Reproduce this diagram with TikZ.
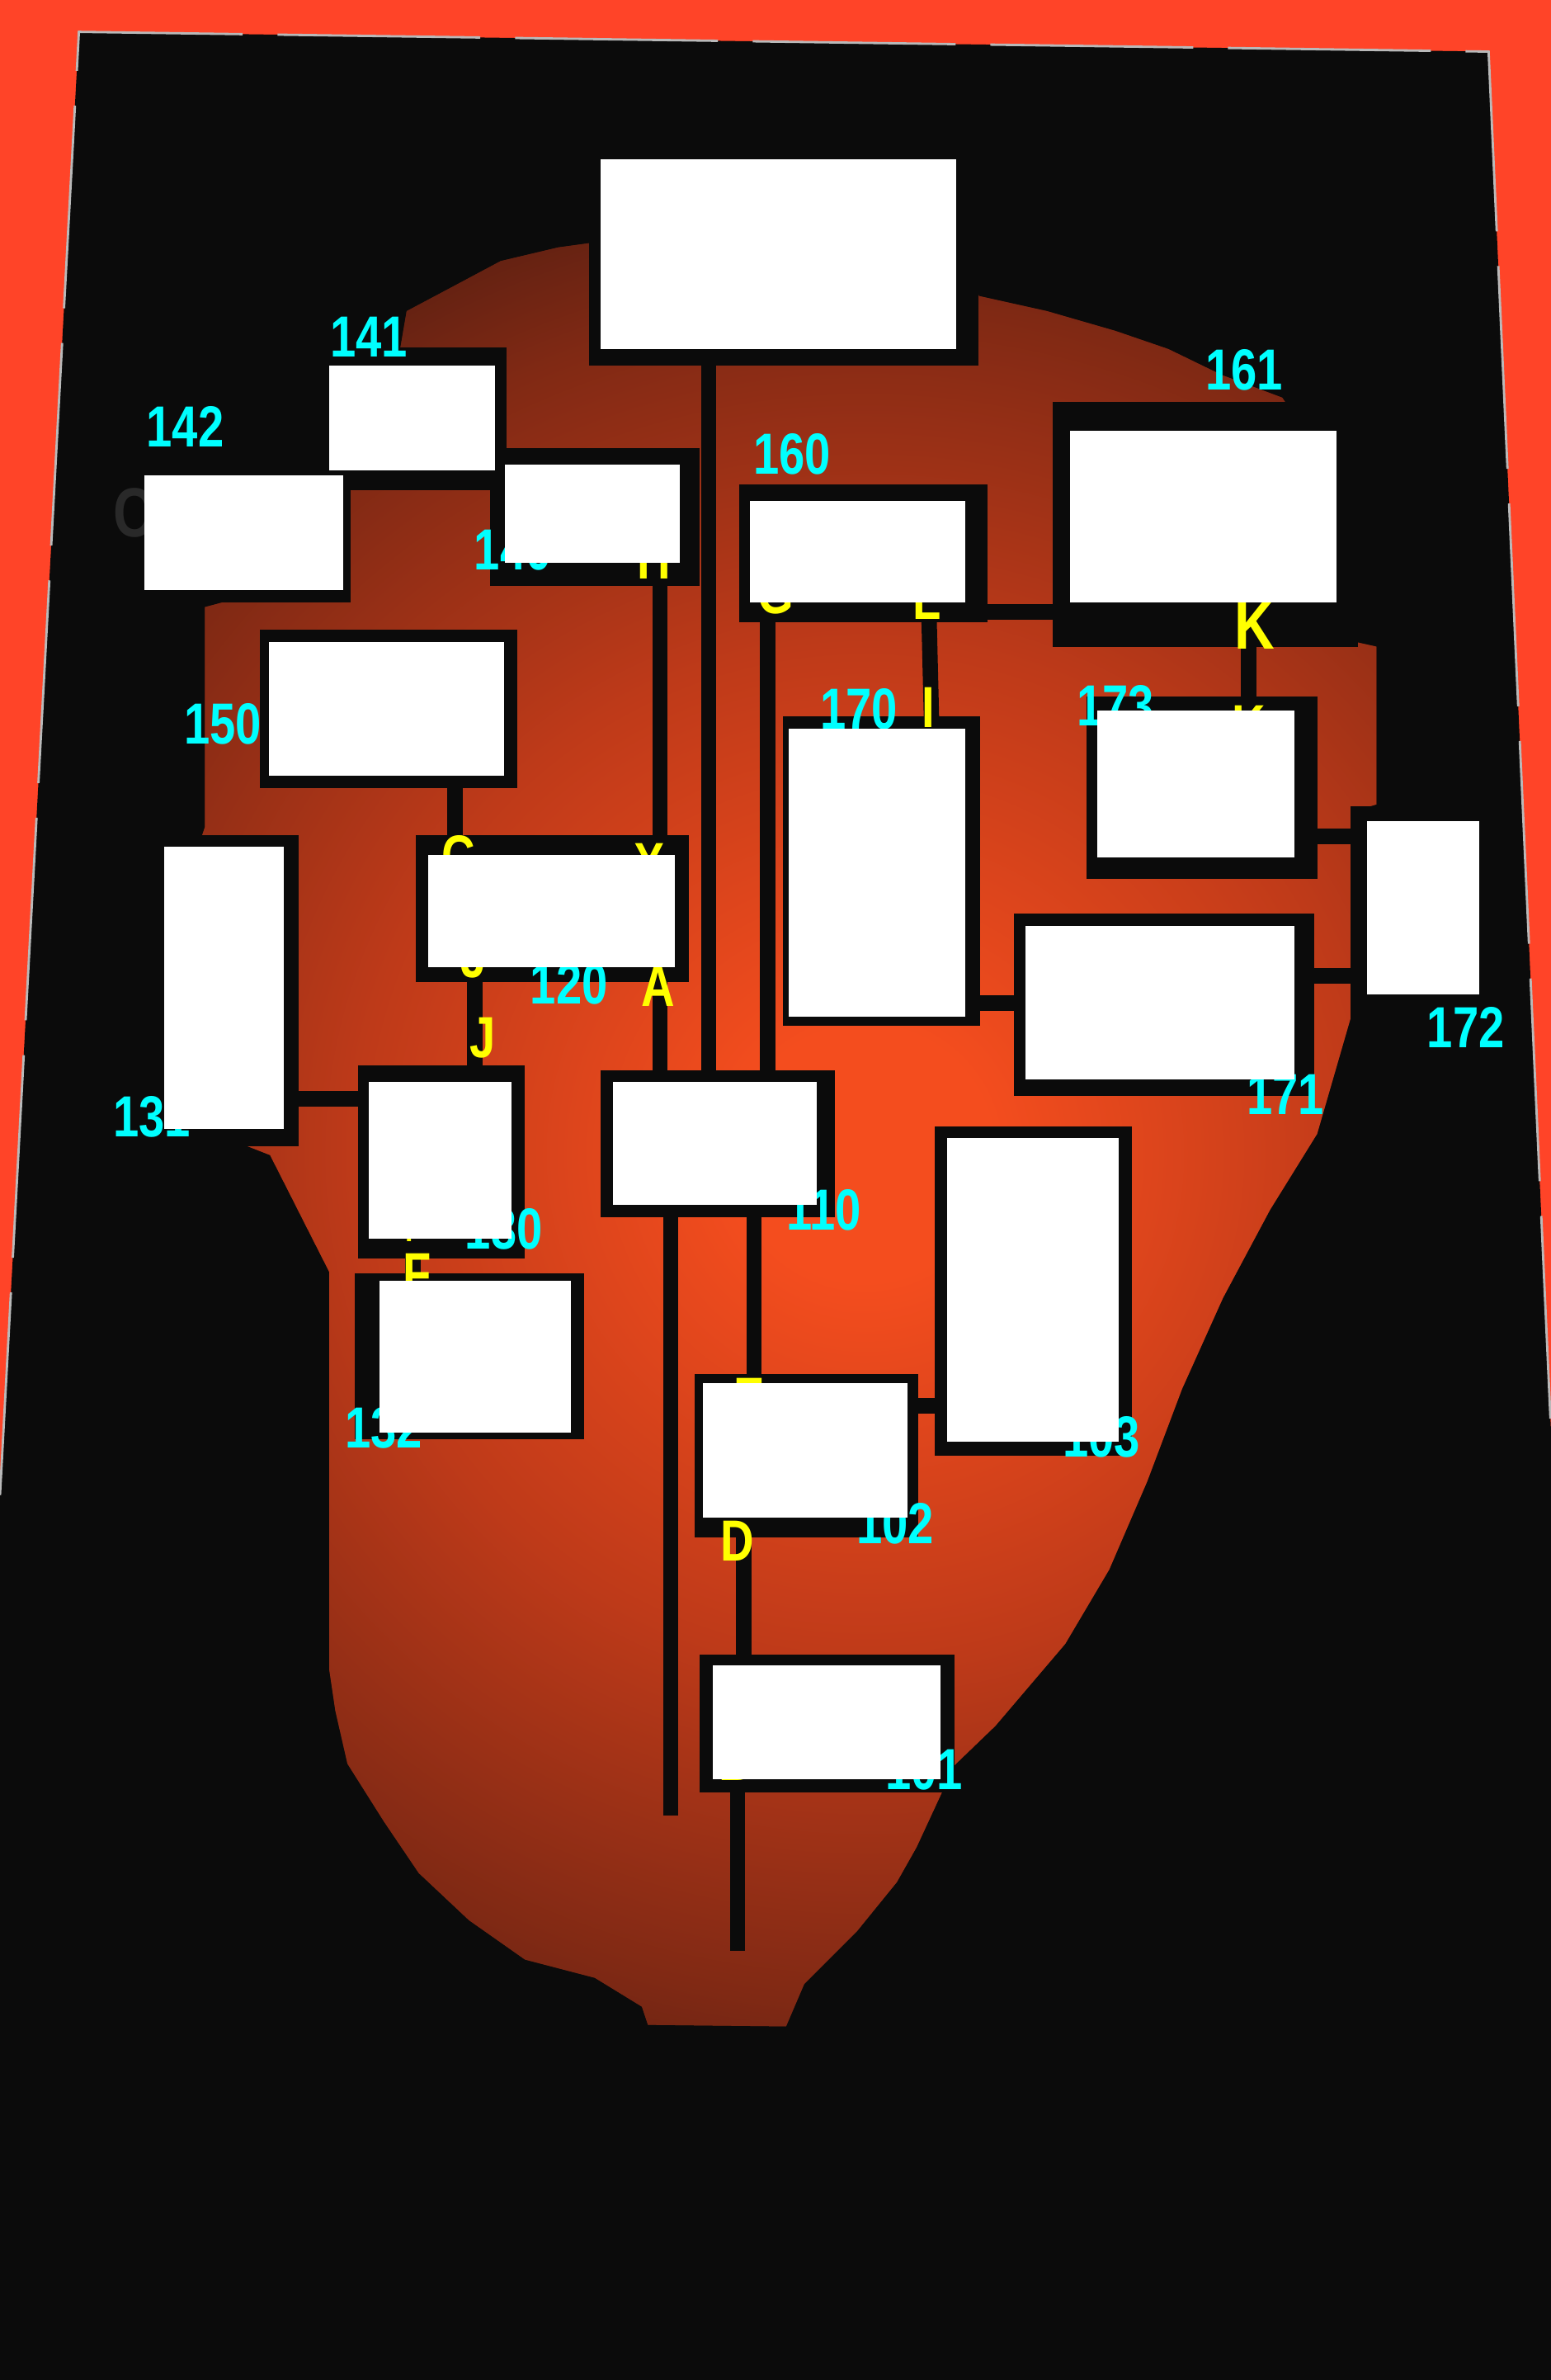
\documentclass[tikz,border=0pt]{standalone}
\usepackage{fontspec}
\usetikzlibrary{fit}
\newfontfamily\lblfont{Liberation Sans}[FakeStretch=0.8]
\definecolor{ink}{RGB}{11,11,11}
\definecolor{bgred}{RGB}{255,68,40}
\definecolor{blobhi}{RGB}{244,77,30}
\definecolor{blobmid}{RGB}{190,58,25}
\definecolor{blobdk}{RGB}{128,41,20}
\definecolor{bloblo}{RGB}{98,33,18}
\definecolor{numcyan}{RGB}{0,255,255}
\definecolor{letyel}{RGB}{255,255,0}
\pgfdeclareradialshading{blobglow}{\pgfpoint{0bp}{0bp}}{color(0bp)=(blobhi); color(3bp)=(blobhi); color(12bp)=(blobmid); color(20bp)=(blobdk); color(23bp)=(bloblo); color(50bp)=(bloblo)}
\pgfdeclarelayer{bg}
\pgfdeclarelayer{mid}
\pgfsetlayers{bg,mid,main}

\begin{document}
\begin{tikzpicture}[x=0.018395cm, y=-0.018395cm,
  wbox/.style={fill=white, draw=none, inner sep=0pt, outer sep=0pt},
  wire/.style={draw=ink, line width=5.3pt},
  numlabel/.style={text=numcyan, inner sep=0pt, font=\lblfont\bfseries\fontsize{20}{20}\selectfont},
  lettertag/.style={text=letyel, inner sep=0pt, font=\lblfont\bfseries\fontsize{20}{20}\selectfont}]
  \useasboundingbox (0,0) rectangle (1022,1568);
  % white boxes
  \node[wbox, fit={(396,105) (630,230)}] (top) {};
  \node[wbox, fit={(217,241) (326,310)}] (n141) {};
  \node[wbox, fit={(95,313) (226,389)}] (n142) {};
  \node[wbox, fit={(333,306) (448,371)}] (n140) {};
  \node[wbox, fit={(494,330) (636,397)}] (n160) {};
  \node[wbox, fit={(705,284) (881,397)}] (n161) {};
  \node[wbox, fit={(177,423) (332,511)}] (n150) {};
  \node[wbox, fit={(282,563) (445,637)}] (n120) {};
  \node[wbox, fit={(108,558) (187,744)}] (n131) {};
  \node[wbox, fit={(243,713) (337,816)}] (n130) {};
  \node[wbox, fit={(250,844) (376,944)}] (n132) {};
  \node[wbox, fit={(404,713) (538,794)}] (n110) {};
  \node[wbox, fit={(520,480) (636,670)}] (n170) {};
  \node[wbox, fit={(723,468) (853,565)}] (n173) {};
  \node[wbox, fit={(901,541) (975,655)}] (n172) {};
  \node[wbox, fit={(676,610) (853,711)}] (n171) {};
  \node[wbox, fit={(624,750) (737,950)}] (n103) {};
  \node[wbox, fit={(463,911) (598,1000)}] (n102) {};
  \node[wbox, fit={(470,1097) (620,1172)}] (n101) {};
  \coordinate (tail1) at (442,1196);
  \coordinate (tail2) at (486,1285);

  \begin{pgfonlayer}{bg}
    \fill[bgred] (0,0) rectangle (1022,1568);
    \fill[ink] (52,21) -- (981,34) -- (1022,940) -- (1022,1568) -- (0,1568) -- (0,985) -- cycle;
    \draw[gray!55, line width=0.8pt, dash pattern=on 70pt off 12pt] (0,985) -- (52,21) -- (981,34) -- (1022,940);
    \begin{scope}
      \clip (268,205) -- (300,188) -- (330,172) -- (368,163) -- (390,160) -- (640,165) -- (645,195)
        -- (690,205) -- (735,218) -- (770,230) -- (805,247) -- (845,262) -- (870,300) -- (880,420)
        -- (907,426) -- (907,530) -- (890,535) -- (890,671) -- (868,747) -- (837,797) -- (806,855)
        -- (779,915) -- (756,976) -- (731,1034) -- (702,1083) -- (656,1137) -- (629,1163)
        -- (604,1217) -- (591,1240) -- (565,1272) -- (530,1307) -- (518,1335) -- (427,1334)
        -- (423,1322) -- (392,1303) -- (346,1291) -- (309,1265) -- (276,1234) -- (253,1200)
        -- (229,1162) -- (221,1127) -- (217,1100) -- (217,838) -- (178,761) -- (150,750) -- (130,560)
        -- (135,545) -- (135,400) -- (150,396) -- (231,396) -- (231,320) -- (250,290) -- (262,240) -- cycle;
      \fill[bloblo] (100,100) rectangle (950,1400);
      \shade[shading=blobglow] (570,760) circle (700);
    \end{scope}
    % frames
    \foreach \xa/\ya/\xb/\yb in {388/98/645/241, 210/229/334/323, 88/306/231/397, 323/295/461/386,
      487/319/651/410, 694/265/895/426, 171/415/341/519, 274/550/454/647, 100/550/197/755,
      236/702/346/829, 234/839/385/948, 396/705/550/802, 516/472/646/676, 716/459/868/579,
      890/531/985/662, 668/602/866/722, 616/742/746/959, 458/905/605/1013, 461/1090/629/1181}
      \fill[ink] (\xa,\ya) rectangle (\xb,\yb);
    % connectors
    \draw[wire] (top.south -| 467,0) -- (n110.north -| 467,0);
    \draw[wire] (n140.south -| 435,0) -- (n120.north -| 435,0);
    \draw[wire] (n120.south -| 435,0) -- (n110.north -| 435,0);
    \draw[wire] (n160.south -| 506,0) -- (n110.north -| 506,0);
    \draw[wire] (n160.south -| 612,0) -- (n170.north -| 614,0);
    \draw[wire] (n161.south -| 823,0) -- (n173.north -| 823,0);
    \draw[wire] (n160.east |- 0,403) -- (n161.west |- 0,403);
    \draw[wire] (n150.south -| 300,0) -- (n120.north -| 300,0);
    \draw[wire] (n120.south -| 313,0) -- (n130.north -| 313,0);
    \draw[wire] (n131.east |- 0,724) -- (n130.west |- 0,724);
    \draw[wire] (n130.south -| 272,0) -- (n132.north -| 272,0);
    \draw[wire] (n110.south -| 442,0) -- (tail1);
    \draw[wire] (n110.south -| 497,0) -- (n102.north -| 497,0);
    \draw[wire] (n102.east |- 0,926) -- (n103.west |- 0,926);
    \draw[wire] (n102.south -| 490,0) -- (n101.north -| 490,0);
    \draw[wire] (n101.south -| 486,0) -- (tail2);
    \draw[wire] (n170.east |- 0,661) -- (n171.west |- 0,661);
    \draw[wire] (n173.east |- 0,551) -- (n172.west |- 0,551);
    \draw[wire] (n171.east |- 0,643) -- (n172.west |- 0,643);
  \end{pgfonlayer}

  \begin{pgfonlayer}{mid}
    \foreach \t/\x/\y in {141/243/222, 142/122/281, 140/338/362, 160/522/299, 161/820/244,
      150/147/477, 170/566/467, 173/735/465, 120/375/648, 131/100/736, 130/332/810,
      110/543/797, 132/253/941, 103/726/947, 102/590/1004, 101/609/1166, 171/847/721, 172/966/677}
      \node[numlabel] (l\t) at (\x,\y) {\t};
    \foreach \i/\t/\x/\y in {1/H/431/368, 2/G/511/391, 3/L/611/395, 5/I/612/466, 6/K/823/478,
      7/C/302/564, 8/X/428/569, 9/J/312/631, 10/J/318/684, 11/A/434/650,
      13/F/275/839, 14/E/494/921, 15/D/486/1015, 16/B/485/1160}
      \node[lettertag] (y\i) at (\x,\y) {\t};
    \node[lettertag, font=\lblfont\bfseries\fontsize{24}{24}\selectfont] (y4) at (827,412) {K};
    \node[lettertag, font=\lblfont\bfseries\fontsize{12}{12}\selectfont] (y12) at (273,810) {F};
    \node[text=black!84, inner sep=0pt, font=\lblfont\bfseries\fontsize{24}{24}\selectfont] (ghost) at (88,338) {C};
  \end{pgfonlayer}
\end{tikzpicture}
\end{document}
